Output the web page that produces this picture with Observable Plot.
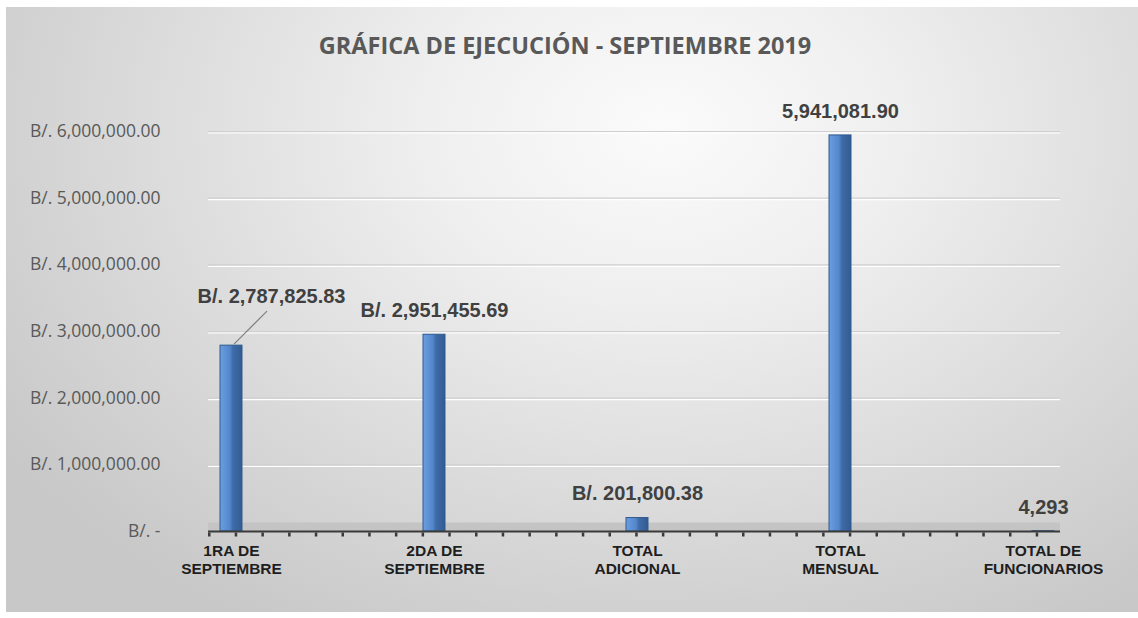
<!DOCTYPE html>
<html>
<head>
<meta charset="utf-8">
<script src="https://cdn.jsdelivr.net/npm/d3@7"></script>
<script src="https://cdn.jsdelivr.net/npm/@observablehq/plot@0.6"></script>
<style>
  html, body { margin: 0; padding: 0; background: #fff; }
  #wrap { position: relative; width: 1138px; height: 618px; background: #fff; overflow: hidden; }
  #bg { position: absolute; left: 6px; top: 7px; right: 0; bottom: 6px;
        background: radial-gradient(ellipse 70% 95% at 58% 20%, #fbfbfb 0%, #efefef 30%, #dddddd 62%, #c8c8c8 100%); }
  #title { position: absolute; left: 0; top: 29px; width: 1130px; text-align: center;
           font-family: "Open Sans", sans-serif; font-weight: 700; font-size: 23.5px; color: #595959; }
  #chart { position: absolute; left: 0; top: 0; }
</style>
</head>
<body>
<div id="wrap">
  <div id="bg"></div>
  <div id="title">GRÁFICA DE EJECUCIÓN - SEPTIEMBRE 2019</div>
  <div id="chart"></div>
</div>
<script>
const categories = ["1RA DE\nSEPTIEMBRE", "2DA DE\nSEPTIEMBRE", "TOTAL\nADICIONAL", "TOTAL\nMENSUAL", "TOTAL DE\nFUNCIONARIOS"];
const values = [2787825.83, 2951455.69, 201800.38, 5941081.90, 4293];
const valueLabels = ["B/. 2,787,825.83", "B/. 2,951,455.69", "B/. 201,800.38", "5,941,081.90", "4,293"];
const yTicks = [0, 1000000, 2000000, 3000000, 4000000, 5000000, 6000000];

const data = categories.map((c, i) => ({category: c, value: values[i], label: valueLabels[i], i}));
const fmt = d3.format(",.2f");
const yFormat = v => v === 0 ? "B/. -" : "B/. " + fmt(v);

const plot = Plot.plot({
  width: 1138,
  height: 618,
  marginTop: 131,
  marginBottom: 87,
  marginLeft: 208,
  marginRight: 78,
  style: {background: "transparent", overflow: "visible"},
  x: {type: "band", domain: categories, paddingInner: 0.89, paddingOuter: 0.0368, align: 0.68, label: null},
  y: {domain: [0, 6000000], label: null},
  marks: [
    Plot.ruleY(yTicks.filter(d => d > 0), {stroke: "#ffffff", strokeWidth: 1.2, dy: 1.5}),
    Plot.ruleY(yTicks.filter(d => d > 0), {stroke: "#cfcfcf", strokeWidth: 1.2}),
    Plot.ruleY([0], {stroke: "#c4c4c4", strokeWidth: 9, dy: -4.5}),
    Plot.barY(data, {x: "category", y: "value", fill: "url(#barGrad)", stroke: "#2f5a8f", strokeWidth: 1}),
    Plot.ruleY([0], {stroke: "#3a3a3a", strokeWidth: 2}),
    Plot.ruleY([0], {stroke: "#3a3a3a", strokeWidth: 4, dy: 3, strokeDasharray: "2.5 24.2"}),
    Plot.axisY({ticks: yTicks, tickFormat: yFormat, tickSize: 0, tickPadding: 48,
      fontSize: 17.5, fontFamily: "Open Sans, sans-serif", fill: "#595959"}),
    Plot.axisX({tickSize: 0, tickPadding: 12, fontSize: 15.5, fontWeight: 700,
      fontFamily: "Liberation Sans, Arial, sans-serif", fill: "#1e1e1e", lineHeight: 1.15}),
    Plot.text(data.filter(d => d.i > 0), {x: "category", y: "value", text: "label", dy: -24,
      fontSize: 20, fontWeight: 700, fontFamily: "Liberation Sans, Arial, sans-serif", fill: "#404040"}),
    Plot.text(data.filter(d => d.i === 0), {x: "category", y: "value", text: "label", dx: 40, dy: -49,
      fontSize: 20, fontWeight: 700, fontFamily: "Liberation Sans, Arial, sans-serif", fill: "#404040"})
  ]
});

const svg = d3.select(plot);
svg.insert("defs", ":first-child").html(`
  <linearGradient id="barGrad" x1="0" x2="1" y1="0" y2="0">
    <stop offset="0%" stop-color="#6c9ee0"/>
    <stop offset="45%" stop-color="#5287cc"/>
    <stop offset="58%" stop-color="#3f6ca8"/>
    <stop offset="100%" stop-color="#325b91"/>
  </linearGradient>`);

// leader line for the first label, positioned with Plot's own scales
const sx = plot.scale("x"), sy = plot.scale("y");
const x0 = sx.apply(categories[0]) + sx.bandwidth / 2;
const y0 = sy.apply(values[0]);
svg.append("line")
  .attr("x1", x0 + 3).attr("y1", y0 - 1)
  .attr("x2", x0 + 36).attr("y2", y0 - 34)
  .attr("stroke", "#7f7f7f").attr("stroke-width", 1.2);

document.getElementById("chart").appendChild(plot);
</script>
</body>
</html>
